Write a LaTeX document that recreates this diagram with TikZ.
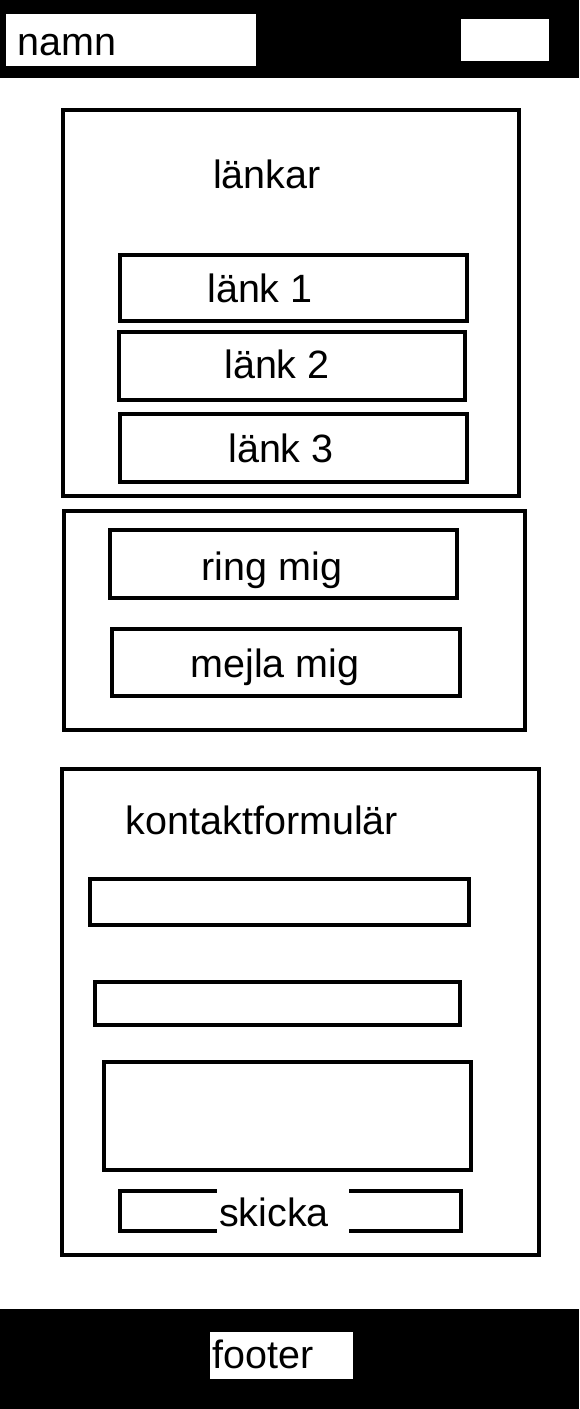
\documentclass[tikz,border=0pt]{standalone}
\usepackage{fontspec}
\setmainfont{Liberation Sans}

\begin{document}
\begin{tikzpicture}[x=1pt, y=-1pt,
        frame/.style={rectangle, draw, line width=4.5pt, inner sep=0pt},
        bar/.style={rectangle, fill=black, inner sep=0pt, anchor=north west},
        patch/.style={rectangle, fill=white, inner sep=0pt, anchor=north west},
        txt/.style={inner sep=0pt, font=\fontsize{39.5}{42}\selectfont}]

        \useasboundingbox (0,0) rectangle (579,1409);

        \node[bar, minimum width=579pt, minimum height=78pt] (header) at (0,0) {};
        \node[patch, minimum width=250pt, minimum height=52pt] (namebox) at (6,14) {};
        \node[txt, anchor=base west] (name) at (17,55) {namn};
        \node[patch, minimum width=88pt, minimum height=42pt] (menubox) at (461,19) {};

        \node[frame, minimum width=456pt, minimum height=386pt] (links) at (291,303) {};
        \node[txt, anchor=base] (linkstitle) at (267,188) {länkar};
        \node[frame, minimum width=347pt, minimum height=66pt] (link1) at (293.5,288) {};
        \node[txt, anchor=base] at (260,302) {länk 1};
        \node[frame, minimum width=346pt, minimum height=68pt] (link2) at (292,366) {};
        \node[txt, anchor=base] at (277,378) {länk 2};
        \node[frame, minimum width=347pt, minimum height=68pt] (link3) at (293.5,448) {};
        \node[txt, anchor=base] at (281,462) {länk 3};

        \node[frame, minimum width=461pt, minimum height=219pt] (contact) at (294.5,620.5) {};
        \node[frame, minimum width=347pt, minimum height=68pt] (call) at (283.5,564) {};
        \node[txt, anchor=base] at (272,580) {ring mig};
        \node[frame, minimum width=348pt, minimum height=67pt] (mail) at (286,662.5) {};
        \node[txt, anchor=base] at (275,677) {mejla mig};

        \node[frame, minimum width=477pt, minimum height=486pt] (form) at (300.5,1012) {};
        \node[txt, anchor=base] (formtitle) at (262,834) {kontaktformulär};
        \node[frame, minimum width=379pt, minimum height=46pt] (field1) at (279.5,902) {};
        \node[frame, minimum width=365pt, minimum height=43pt] (field2) at (277.5,1003.5) {};
        \node[frame, minimum width=367pt, minimum height=108pt] (field3) at (287.5,1116) {};
        \node[frame, minimum width=341pt, minimum height=40pt] (send) at (290.5,1211) {};
        \node[patch, minimum width=132pt, minimum height=46pt] (sendpatch) at (217,1189) {};
        \node[txt, anchor=base west] at (219,1226) {skicka};

        \node[bar, minimum width=579pt, minimum height=100pt] (footer) at (0,1309) {};
        \node[patch, minimum width=143pt, minimum height=47pt] (footerbox) at (210,1332) {};
        \node[txt, anchor=base west] at (212,1368) {footer};
    \end{tikzpicture}
\end{document}
